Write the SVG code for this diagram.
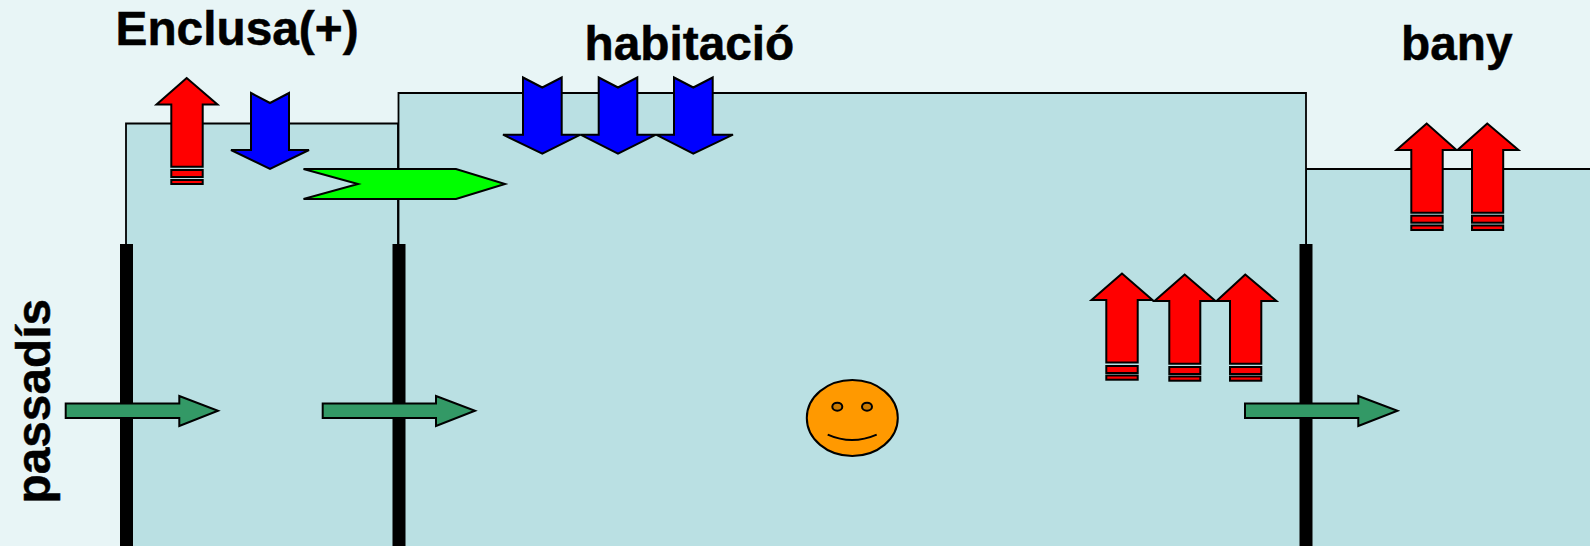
<svg xmlns="http://www.w3.org/2000/svg" width="1590" height="546" viewBox="0 0 1590 546">
<style>
.room{fill:#bae0e3;stroke:#000;stroke-width:1.8}
.wall{fill:#000}
.sh{stroke:#000;stroke-width:2;stroke-linejoin:miter}
.red{fill:#f00}
.blue{fill:#00f}
.lime{fill:#0f0}
.teal{fill:#396}
.lbl{font-family:"Liberation Sans",Arial,sans-serif;font-weight:700;font-size:47.800px;fill:#000;stroke:#000;stroke-width:.5}
</style>
<rect width="1590" height="546" fill="#e8f5f6"/>
<g id="rooms">
<path id="room-enclusa" class="room" d="M126 560V123.500H398V560Z"/>
<path id="room-bany" class="room" d="M1306 560V169H1610V560Z"/>
<path id="room-habitacio" class="room" d="M398.500 560V93H1306V560Z"/>
</g>
<g id="walls">
<rect class="wall" x="120" y="244" width="13" height="302"/>
<rect class="wall" x="392.500" y="244" width="13" height="302"/>
<rect class="wall" x="1299.500" y="244" width="13" height="302"/>
</g>
<g id="labels">
<text id="label-enclusa" class="lbl" x="115.500" y="44.800">Enclusa(+)</text>
<text id="label-habitacio" class="lbl" x="584.500" y="60.300">habitació</text>
<text id="label-bany" class="lbl" x="1401" y="60.300">bany</text>
<text id="label-passadis" class="lbl" transform="translate(49.500 503.500) rotate(-90)">passadís</text>
</g>
<g id="connectors">
<g id="red-up-enclusa" class="sh red">
<path d="M186.700 78L156.500 104.500H171.300V166.700H202.700V104.500H217.500Z"/>
<rect x="171.300" y="170" width="31.400" height="7"/>
<rect x="171.300" y="180" width="31.400" height="4"/>
</g>
<path id="blue-down-enclusa" class="sh blue" d="M251 93L270 103L289 93V150H309L270 169L231 150H251Z"/>
<path id="lime-door" class="sh lime" d="M303.500 169H456L505 184L456 199H303.500L358 184Z"/>
<g id="blue-down-habitacio" class="sh blue">
<path d="M523 77.500L542.300 87.500L561.700 77.500V134.700H580.500L542.300 153.700L503 134.700H523Z"/>
<path d="M598.700 77.500L618 87.500L637.300 77.500V134.700H656L618 153.700L580.500 134.700H598.700Z"/>
<path d="M674 77.500L693.300 87.500L712.700 77.500V134.700H733L693.300 153.700L656 134.700H674Z"/>
</g>
<g id="red-up-bany" class="sh red">
<path d="M1426.700 123.500L1396.500 150H1411.300V212.700H1442.700V150H1456.500Z"/>
<rect x="1411.300" y="215.700" width="31.400" height="7"/>
<rect x="1411.300" y="225.500" width="31.400" height="4.500"/>
<path d="M1487.300 123.500L1457.500 150H1472V212.700H1503.200V150H1518.500Z"/>
<rect x="1472" y="215.700" width="31.200" height="7"/>
<rect x="1472" y="225.500" width="31.200" height="4.500"/>
</g>
<g id="red-up-habitacio" class="sh red">
<path d="M1122 273.500L1091.500 300H1106.300V362.500H1137.700V300H1152.500Z"/>
<rect x="1106.300" y="366" width="31.400" height="7"/>
<rect x="1106.300" y="375.500" width="31.400" height="4.200"/>
<path d="M1184.700 274.500L1154.500 301H1169.300V363.700H1200.300V301H1215.500Z"/>
<rect x="1169.300" y="367" width="31" height="7"/>
<rect x="1169.300" y="376.500" width="31" height="4.200"/>
<path d="M1245.300 274.500L1216.500 301H1230V363.700H1261.300V301H1276.500Z"/>
<rect x="1230" y="367" width="31.300" height="7"/>
<rect x="1230" y="376.500" width="31.300" height="4.200"/>
</g>
<path id="teal-1" class="sh teal" d="M65.700 403.500H179.300V396L218 410.700L179.300 426V418H65.700Z"/>
<path id="teal-2" class="sh teal" d="M322.700 403.500H436V396L475 410.700L436 426V418H322.700Z"/>
<path id="teal-3" class="sh teal" d="M1245 403.500H1358.300V396L1397.500 410.700L1358.300 426V418H1245Z"/>
</g>
<g id="smiley" stroke="#000" stroke-width="2">
<ellipse cx="852.300" cy="418" rx="45.500" ry="38" fill="#f90"/>
<ellipse cx="837.300" cy="406.700" rx="5" ry="4" fill="#cc7a00"/>
<ellipse cx="867" cy="406.700" rx="5" ry="4" fill="#cc7a00"/>
<path d="M827.700 434.700Q852 445.500 876.700 434.700" fill="none"/>
</g>
</svg>
